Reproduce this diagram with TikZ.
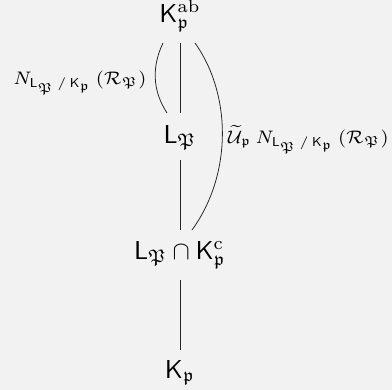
\documentclass[tikz,border=0pt]{standalone}
\usepackage{amsmath,amssymb}
\usetikzlibrary{calc}
\definecolor{bg}{HTML}{F2F2F2}
\newcommand{\normsub}{N_{\mathsf{L}_{\mathfrak P}\,/\,\mathsf{K}_{\mathfrak p}}}
\begin{document}
\begin{tikzpicture}[x=0.386pt,y=-0.386pt,
  every node/.style={inner sep=0pt},
  obj/.style={anchor=base},
  lbl/.style={font=\scriptsize},
  conn/.style={line width=0.3pt,draw=black!85}]
\fill[bg] (0,0) rectangle (392,390);
\useasboundingbox (0,0) rectangle (392,390);
\node[obj] (top) at (180,22) {$\mathsf{K}_{\mathfrak p}^{\mathrm{ab}}$};
\node[obj] (LP) at (180,143) {$\mathsf{L}_{\mathfrak P}$};
\node[obj] (mid) at (180,259) {$\mathsf{L}_{\mathfrak P}\cap\mathsf{K}_{\mathfrak p}^{\mathrm{c}}$};
\node[obj] (bot) at (180,378) {$\mathsf{K}_{\mathfrak p}$};
\draw[conn] ($(top.base)+(0,21)$) -- ($(LP.base)+(0,-30)$);
\draw[conn] ($(LP.base)+(0,17)$) -- ($(mid.base)+(0,-29)$);
\draw[conn] ($(mid.base)+(0,21)$) -- ($(bot.base)+(0,-28)$);
\draw[conn] ($(top.base)+(-17,21)$) .. controls (152,66) and (152,90) .. ($(LP.base)+(-13,-30)$);
\draw[conn] ($(top.base)+(15,21)$) .. controls (232,95) and (232,175) .. ($(mid.base)+(12,-29)$);
\node[lbl,anchor=base east] (ll) at (147,84) {$\normsub\,(\mathcal{R}_{\mathfrak P})$};
\node[lbl,anchor=base west] (rl) at (227,143) {$\widetilde{\mathcal{U}}_{\mathfrak p}\,\normsub\,(\mathcal{R}_{\mathfrak P})$};
\end{tikzpicture}
\end{document}
